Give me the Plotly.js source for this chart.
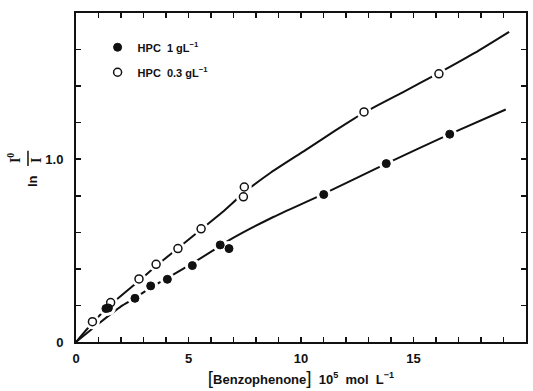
<!DOCTYPE html>
<html>
<head>
<meta charset="utf-8">
<script src="https://cdn.plot.ly/plotly-3.0.1.min.js"></script>
<style>html,body{margin:0;padding:0;background:#fff;}#chart{width:533px;height:391px;}</style>
</head>
<body>
<div id="chart"></div>
<script>
// ---- data ----
const filledX = [1.33, 1.44, 2.62, 3.32, 4.06, 5.17, 6.41, 6.80, 11.01, 13.79, 16.61];
const filledY = [0.183, 0.186, 0.239, 0.307, 0.343, 0.418, 0.531, 0.511, 0.807, 0.976, 1.137];

const openX = [0.73, 1.54, 2.80, 3.56, 4.53, 5.56, 7.44, 7.48, 12.80, 16.13];
const openY = [0.111, 0.216, 0.345, 0.425, 0.511, 0.619, 0.794, 0.848, 1.259, 1.467];

// fitted curves drawn in the figure
const upperCurveX = [0, 0.7, 1.5, 2.8, 3.6, 4.5, 5.6, 6.5, 7.5, 8.6, 10.2, 11.5, 12.8, 14.5, 16.1, 17.7, 19.25];
const upperCurveY = [0, 0.10, 0.20, 0.335, 0.42, 0.51, 0.62, 0.71, 0.82, 0.922, 1.05, 1.155, 1.255, 1.365, 1.47, 1.58, 1.697];

const lowerCurveX = [0, 1.0, 2.0, 2.62, 3.32, 4.06, 5.17, 6.4, 6.81, 8.77, 10.77, 13.79, 16.61, 19.1];
const lowerCurveY = [0, 0.10, 0.195, 0.24, 0.298, 0.35, 0.43, 0.525, 0.557, 0.684, 0.797, 0.976, 1.137, 1.272];

const legendNames = ['<b>HPC  1 gL<sup>−1</sup></b>', '<b>HPC  0.3 gL<sup>−1</sup></b>'];

const xTickVals = [0,1,2,3,4,5,6,7,8,9,10,11,12,13,14,15,16,17,18,19,20];
const xTickText = ['0','','','','','5','','','','','10','','','','','15','','','','','20'];
const yTickVals = [0, 0.2, 0.4, 0.6, 0.8, 1.0, 1.2, 1.4, 1.6];
const yTickText = ['0', '', '', '', '', '1.0', '', '', ''];

// ---- chart ----
const ink = '#111';
const font = 'Liberation Sans, Arial, sans-serif';
const serif = 'Liberation Serif, serif';

const traces = [
  {x: upperCurveX, y: upperCurveY, mode: 'lines', line: {color: ink, width: 2, shape: 'spline', smoothing: 0.6}, showlegend: false, hoverinfo: 'skip'},
  {x: lowerCurveX, y: lowerCurveY, mode: 'lines', line: {color: ink, width: 2, shape: 'spline', smoothing: 0.6}, showlegend: false, hoverinfo: 'skip'},
  // white halos that break the curves around each point
  {x: filledX.concat(openX), y: filledY.concat(openY), mode: 'markers', marker: {color: '#fff', size: 15, line: {width: 0}}, showlegend: false, hoverinfo: 'skip'},
  {x: filledX, y: filledY, mode: 'markers', name: legendNames[0], legendgroup: 'a',
   marker: {symbol: 'circle', color: ink, size: 8, line: {color: ink, width: 1}}},
  {x: openX, y: openY, mode: 'markers', name: legendNames[1], legendgroup: 'b',
   marker: {symbol: 'circle-open', color: ink, size: 8, line: {color: ink, width: 1.5}}}
];

const layout = {
  width: 533, height: 391,
  margin: {l: 76, r: 7, t: 13, b: 49},
  paper_bgcolor: '#fff', plot_bgcolor: '#fff',
  font: {family: font, color: ink, size: 13},
  showlegend: true,
  legend: {x: 0.048, y: 0.94, xanchor: 'left', yanchor: 'top', bgcolor: 'rgba(0,0,0,0)',
           font: {family: font, size: 11, color: ink}, traceorder: 'grouped', tracegroupgap: 6,
           itemwidth: 30},
  xaxis: {
    range: [0, 20], showgrid: false, zeroline: false,
    showline: true, linecolor: ink, linewidth: 2, mirror: 'ticks',
    ticks: 'inside', ticklen: 5, tickwidth: 1.5, tickcolor: ink,
    tickvals: xTickVals, ticktext: xTickText,
    tickfont: {family: font, size: 13, color: ink, weight: 'bold'},
    ticklabelstandoff: 3,
    title: {text: '<span style="font-size:19px;font-weight:normal">[</span><b>Benzophenone</b><span style="font-size:19px;font-weight:normal">]</span><b>  10<sup>5</sup>  mol  L<sup>−1</sup></b>',
            font: {family: font, size: 13, color: ink}, standoff: 10}
  },
  yaxis: {
    range: [0, 1.8], showgrid: false, zeroline: false,
    showline: true, linecolor: ink, linewidth: 2, mirror: 'ticks',
    ticks: 'inside', ticklen: 5, tickwidth: 1.5, tickcolor: ink,
    tickvals: yTickVals, ticktext: yTickText,
    tickfont: {family: font, size: 13, color: ink, weight: 'bold'},
    ticklabelstandoff: 8
  },
  annotations: [
    {xref: 'paper', yref: 'paper', x: 0, y: 0.489, xshift: -44, text: '<b>ln</b>', textangle: -90, showarrow: false,
     font: {family: font, size: 13, color: ink}, xanchor: 'center', yanchor: 'middle'},
    {xref: 'paper', yref: 'paper', x: 0, y: 0.559, xshift: -62, text: '<b>I<sup>0</sup></b>', textangle: -90, showarrow: false,
     font: {family: serif, size: 14, color: ink}, xanchor: 'center', yanchor: 'middle'},
    {xref: 'paper', yref: 'paper', x: 0, y: 0.55, xshift: -40, text: '<b>I</b>', textangle: -90, showarrow: false,
     font: {family: serif, size: 14, color: ink}, xanchor: 'center', yanchor: 'middle'}
  ],
  shapes: [
    {type: 'line', xref: 'paper', yref: 'paper', x0: -0.1067, x1: -0.1067, y0: 0.535, y1: 0.581,
     line: {color: ink, width: 1.5}}
  ]
};

Plotly.newPlot('chart', traces, layout, {displayModeBar: false, staticPlot: true});
</script>
</body>
</html>
